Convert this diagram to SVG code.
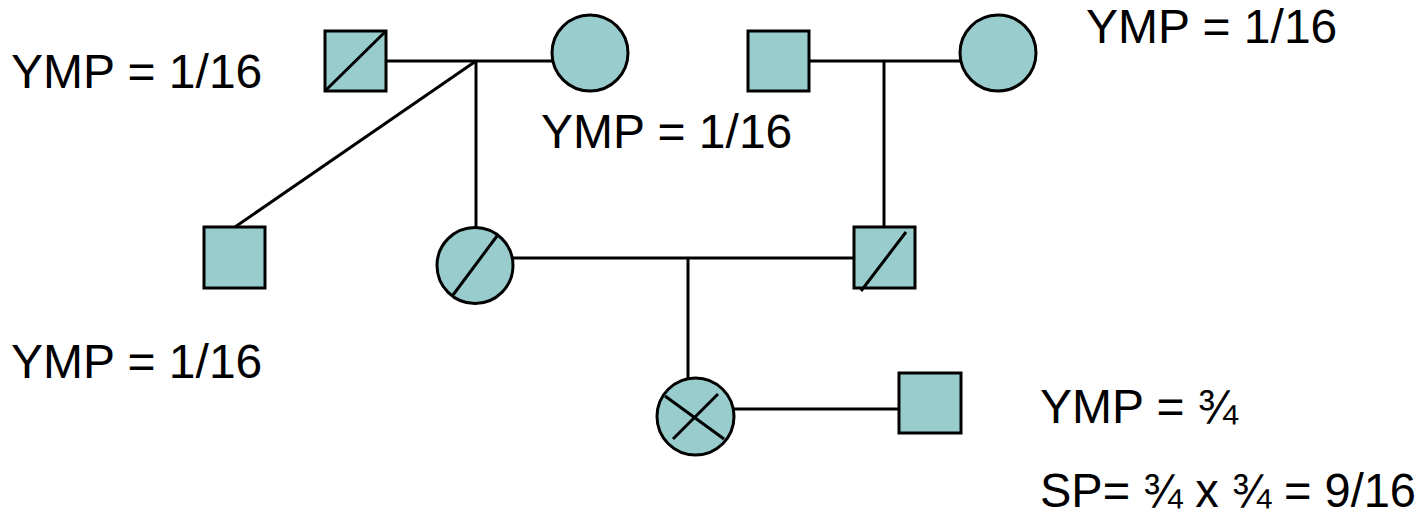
<svg xmlns="http://www.w3.org/2000/svg" width="1428" height="512" viewBox="0 0 1428 512">
<style>
.n{fill:#99CCCC;stroke:#000;stroke-width:3}
.l{stroke:#000;stroke-width:3;fill:none}
text{font-family:"Liberation Sans",Arial,sans-serif;font-size:48px;fill:#000}
</style>
<rect width="1428" height="512" fill="#fff"/>
<g id="connectors">
<line class="l" x1="386" y1="61" x2="552" y2="61"/>
<line class="l" x1="476" y1="61" x2="476" y2="227"/>
<line class="l" x1="476" y1="61" x2="235" y2="227"/>
<line class="l" x1="809" y1="61" x2="960" y2="61"/>
<line class="l" x1="884" y1="61" x2="884" y2="227"/>
<line class="l" x1="507" y1="258" x2="854" y2="258"/>
<line class="l" x1="688" y1="258" x2="688" y2="378"/>
<line class="l" x1="734" y1="409" x2="899" y2="409"/>
</g>
<g id="gf1"><rect class="n" x="325" y="31" width="61" height="60"/><line class="l" x1="325" y1="91" x2="386" y2="31"/></g>
<g id="gm1"><circle class="n" cx="590" cy="53" r="38"/></g>
<g id="gf2"><rect class="n" x="748" y="31" width="61" height="60"/></g>
<g id="gm2"><circle class="n" cx="998" cy="53" r="38"/></g>
<g id="uncle"><rect class="n" x="204" y="227" width="61" height="61"/></g>
<g id="mother"><circle class="n" cx="475" cy="265.5" r="38"/><line class="l" x1="497" y1="236" x2="453" y2="295"/></g>
<g id="father"><rect class="n" x="854" y="227" width="61" height="61"/><line class="l" x1="906" y1="232" x2="861" y2="291"/></g>
<g id="proband"><circle class="n" cx="695.5" cy="416.5" r="38.5"/><line class="l" x1="665" y1="396" x2="724" y2="439"/><line class="l" x1="718" y1="394" x2="673" y2="439"/></g>
<g id="partner"><rect class="n" x="899" y="373" width="62" height="60"/></g>
<g id="labels">
<text x="11" y="88">YMP = 1/16</text>
<text x="541" y="148">YMP = 1/16</text>
<text x="1086" y="43">YMP = 1/16</text>
<text x="11" y="378">YMP = 1/16</text>
<text x="1040" y="423">YMP = ¾</text>
<text x="1040" y="507" textLength="376" lengthAdjust="spacingAndGlyphs">SP= ¾ x ¾ = 9/16</text>
</g>
</svg>
